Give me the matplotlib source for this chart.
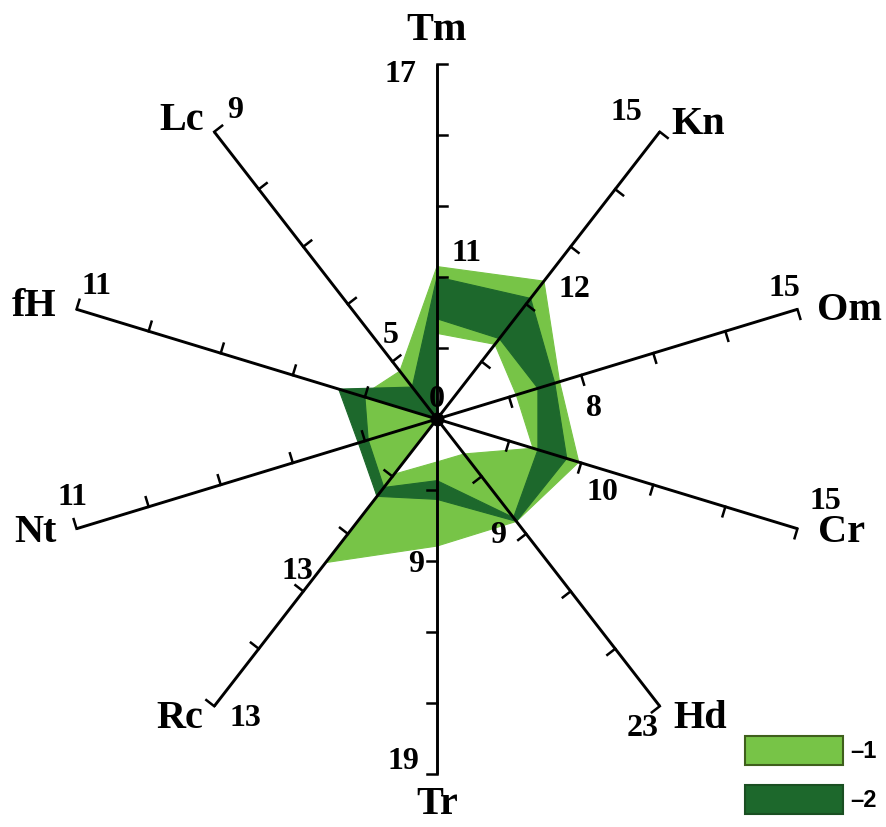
import numpy as np
import matplotlib.pyplot as plt
from matplotlib.path import Path
from matplotlib.patches import PathPatch, Rectangle

# ---- data -------------------------------------------------------------
axis_names = ["Tm", "Kn", "Om", "Cr", "Hd", "Tr", "Rc", "Nt", "fH", "Lc"]
axis_max = [17, 15, 15, 15, 23, 19, 13, 11, 11, 9]

# series 1 (light green) : outer / inner edge of the band
light_outer_axes = ["Tm", "Kn", "Om", "Cr", "Hd", "Tr", "Rc", "Rc", "Nt", "fH", "Lc"]
light_outer = [7.3, 7.2, 5.1, 5.9, 8.2, 6.8, 6.5, 3.5, 2.3, 2.3, 1.5]
light_inner_axes = ["Tm", "Kn", "Om", "Cr", "Hd", "Tr", "Rc", "Rc", "Nt", "fH", "Lc"]
light_inner = [4.1, 3.9, 3.3, 4.0, 2.8, 2.3, 2.5, 0, 0, 0, 0]

# series 2 (dark green)
dark_outer = [6.8, 6.3, 4.9, 5.4, 8.2, 4.3, 3.5, 2.4, 3.0, 1.0]
dark_inner = [4.8, 4.2, 4.2, 4.2, 7.9, 3.3, 3.1, 2.1, 2.2, 0]

# numbers written next to the axes
mid_labels = {"Tm": "11", "Kn": "12", "Om": "8", "Cr": "10",
              "Hd": "9", "Tr": "9", "Rc": "13", "Lc": "5"}
series_labels = ["1", "2"]

light_col = "#77c447"
dark_col = "#1d682c"

# ---- layout -----------------------------------------------------------
W, H = 886, 828
CX, CY = 437, 420          # centre, pixels
SX, SY = 379, 355          # pixels per unit radius (x, y)
TICK = 10                  # tick length, pixels

# label offsets in pixels (dx right, dy up)
name_off = {"Tm": (0, 35), "Kn": (38, 8), "Om": (52, 0), "Cr": (44, -3),
            "Hd": (40, -11), "Tr": (0, -30), "Rc": (-34, -11),
            "Nt": (-41, -3), "fH": (-42, 4), "Lc": (-33, 12)}
end_off = {"Tm": (-37, -10), "Kn": (-33, 20), "Om": (-13, 22), "Cr": (28, 28),
           "Hd": (-17, -21), "Tr": (-34, 13), "Rc": (31, -11),
           "Nt": (-4, 32), "fH": (20, 24), "Lc": (21, 22)}
mid_pos = {"Tm": (0.47, 30, 0), "Kn": (0.47, 33, -4), "Om": (0.4, 13, -32),
           "Cr": (0.4, 21, -29), "Hd": (0.4, -28, -1), "Tr": (0.4, -21, -3),
           "Rc": (0.5, -28, -8), "Lc": (0.2, -2, 27)}

angles = np.radians(90 - 36 * np.arange(len(axis_names)))


def axis_point(name, frac):
    k = axis_names.index(name)
    return frac * np.cos(angles[k]), frac * np.sin(angles[k])


def value_point(name, value):
    return axis_point(name, value / axis_max[axis_names.index(name)])


def normal(name):
    # clockwise normal of an axis, measured in pixel space
    k = axis_names.index(name)
    ux, uy = np.cos(angles[k]) * SX, np.sin(angles[k]) * SY
    n = np.hypot(ux, uy)
    return uy / n, -ux / n


def px(x, y):
    return (x - CX) / SX, (CY - y) / SY


def band(outer_axes, outer, inner_axes, inner):
    out_pts = [value_point(a, v) for a, v in zip(outer_axes, outer)]
    in_pts = [value_point(a, v) for a, v in zip(inner_axes, inner)][::-1]
    verts = out_pts + [out_pts[0]] + in_pts + [in_pts[0]]
    codes = ([Path.MOVETO] + [Path.LINETO] * (len(out_pts) - 1) + [Path.CLOSEPOLY]
             + [Path.MOVETO] + [Path.LINETO] * (len(in_pts) - 1) + [Path.CLOSEPOLY])
    return Path(verts, codes)


fig = plt.figure(figsize=(W / 100, H / 100), dpi=100)
ax = fig.add_axes([0, 0, 1, 1])
ax.set_xlim(-CX / SX, (W - CX) / SX)
ax.set_ylim(-(H - CY) / SY, CY / SY)
ax.axis("off")

ax.add_patch(PathPatch(band(light_outer_axes, light_outer, light_inner_axes, light_inner),
                       facecolor=light_col, edgecolor=light_col, lw=0.8, zorder=1))
ax.add_patch(PathPatch(band(axis_names, dark_outer, axis_names, dark_inner),
                       facecolor=dark_col, edgecolor=dark_col, lw=0.8, zorder=2))

serif = dict(family="Liberation Serif", fontweight="bold")

# axes, ticks and end brackets
for name in axis_names:
    ex, ey = axis_point(name, 1.0)
    ax.plot([0, ex], [0, ey], color="black", lw=2.1, solid_capstyle="butt", zorder=3)
    nx, ny = normal(name)
    for f in [0.2, 0.4, 0.6, 0.8, 1.0]:
        tx, ty = axis_point(name, f)
        ax.plot([tx, tx + nx * TICK / SX], [ty, ty + ny * TICK / SY],
                color="black", lw=1.8, zorder=3)
    k = axis_names.index(name)
    ax.annotate(name, (ex, ey), xytext=name_off[name], textcoords="offset pixels",
                ha="center", va="center", fontsize=29, **serif)
    ax.annotate(str(axis_max[k]), (ex, ey), xytext=end_off[name],
                textcoords="offset pixels", ha="center", va="center",
                fontsize=23, **serif)
    if name in mid_labels:
        f, dx, dy = mid_pos[name]
        ax.annotate(mid_labels[name], axis_point(name, f), xytext=(dx, dy),
                    textcoords="offset pixels", ha="center", va="center",
                    fontsize=23, **serif)

ax.annotate("0", (0, 0), xytext=(0, 20), textcoords="offset pixels",
            ha="center", va="center", fontsize=23, zorder=2.5, **serif)
ax.plot(0, 0, "o", ms=9, color="black", zorder=4)

# legend
for i, (lab, col, edge) in enumerate(zip(series_labels, [light_col, dark_col],
                                         ["#3f5f1c", "#1a4f22"])):
    top = 737 + 49 * i
    x0, y0 = px(745, top + 29)
    x1, y1 = px(843, top)
    ax.add_patch(Rectangle((x0, y0), x1 - x0, y1 - y0, facecolor=col,
                           edgecolor=edge, lw=1.5, zorder=3))
    ax.text(*px(850, top + 15), "\u2013" + lab, ha="left", va="center",
            fontsize=17, family="Liberation Sans", fontweight="bold")

fig.savefig("out.png", dpi=100)
